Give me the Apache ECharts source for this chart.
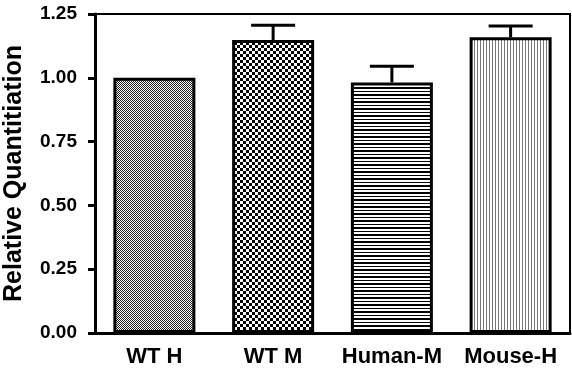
<!DOCTYPE html>
<html><head><meta charset="utf-8">
<script src="https://cdn.jsdelivr.net/npm/echarts@6/dist/echarts.min.js"></script>
<style>html,body{margin:0;padding:0;background:#fff}#c{width:572px;height:368px}</style>
</head><body><div id="c"></div>
<script>
var categories = ['WT H', 'WT M', 'Human-M', 'Mouse-H'];
var means = [1.00, 1.148, 0.982, 1.159];
var errUpper = [1.00, 1.206, 1.045, 1.203];
var yTicks = [0, 0.25, 0.5, 0.75, 1.0, 1.25];

function makePattern(kind) {
  var c = document.createElement('canvas');
  var ctx;
  if (kind === 0) {
    c.width = 2; c.height = 2; ctx = c.getContext('2d');
    ctx.fillStyle = '#fff'; ctx.fillRect(0,0,2,2);
    ctx.fillStyle = '#222'; ctx.fillRect(0,0,1,1); ctx.fillRect(1,1,1,1);
  } else if (kind === 1) {
    c.width = 6; c.height = 6; ctx = c.getContext('2d');
    ctx.fillStyle = '#fff'; ctx.fillRect(0,0,6,6);
    ctx.fillStyle = '#000'; ctx.fillRect(0,0,3,3); ctx.fillRect(3,3,3,3);
  } else if (kind === 2) {
    c.width = 4; c.height = 7; ctx = c.getContext('2d');
    ctx.fillStyle = '#fff'; ctx.fillRect(0,0,4,7);
    ctx.fillStyle = '#000'; ctx.fillRect(0,0,4,1); ctx.fillRect(0,3,4,2);
  } else {
    c.width = 3; c.height = 4; ctx = c.getContext('2d');
    ctx.fillStyle = '#fff'; ctx.fillRect(0,0,3,4);
    ctx.fillStyle = '#777'; ctx.fillRect(0,0,1,4);
  }
  return {image: c, repeat: 'repeat'};
}
var patterns = [0,1,2,3].map(makePattern);

var chart = echarts.init(document.getElementById('c'), null, {renderer: 'canvas'});
var font = 'Liberation Sans, Arial, sans-serif';
chart.setOption({
  animation: false,
  grid: {left: 95, right: 2, top: 14, bottom: 35, containLabel: false, outerBoundsMode: 'none',
    show: true, borderColor: '#000', borderWidth: 2, backgroundColor: 'transparent'},
  xAxis: {
    type: 'category', data: categories,
    axisLine: {lineStyle: {color: '#000', width: 3}},
    axisTick: {alignWithLabel: true, interval: 0, length: 7, lineStyle: {color: '#000', width: 3}},
    axisLabel: {interval: 0, hideOverlap: false, color: '#000', fontFamily: font, fontWeight: 'bold', fontSize: 22, margin: 13, lineHeight: 22}
  },
  yAxis: {
    type: 'value', min: 0, max: 1.25, interval: 0.25,
    name: 'Relative Quantitiation', nameLocation: 'middle', nameGap: 68,
    nameTextStyle: {color: '#000', fontFamily: font, fontWeight: 'bold', fontSize: 25},
    splitLine: {show: false},
    axisLine: {show: true, lineStyle: {color: '#000', width: 3}},
    axisTick: {show: true, length: 7, lineStyle: {color: '#000', width: 3}},
    axisLabel: {color: '#000', fontFamily: font, fontWeight: 'bold', fontSize: 19, margin: 18,
      formatter: function (v) { return v.toFixed(2); }}
  },
  series: [{
    type: 'bar', barWidth: 82,
    data: means.map(function (v, i) {
      return {value: v, itemStyle: {color: patterns[i], borderColor: '#000', borderWidth: 3}};
    }),
    z: 2
  }, {
    type: 'custom', z: 3,
    data: categories.map(function (c, i) { return [i, means[i], errUpper[i]]; }),
    renderItem: function (params, api) {
      var x = api.value(0);
      var lo = api.coord([x, api.value(1)]);
      var hi = api.coord([x, api.value(2)]);
      if (api.value(2) <= api.value(1)) return null;
      var half = 22;
      return {
        type: 'group',
        children: [
          {type: 'line', shape: {x1: lo[0], y1: lo[1], x2: hi[0], y2: hi[1]}, style: {stroke: '#000', lineWidth: 3}},
          {type: 'line', shape: {x1: hi[0] - half, y1: hi[1], x2: hi[0] + half, y2: hi[1]}, style: {stroke: '#000', lineWidth: 3}}
        ]
      };
    }
  }]
});
</script></body></html>
